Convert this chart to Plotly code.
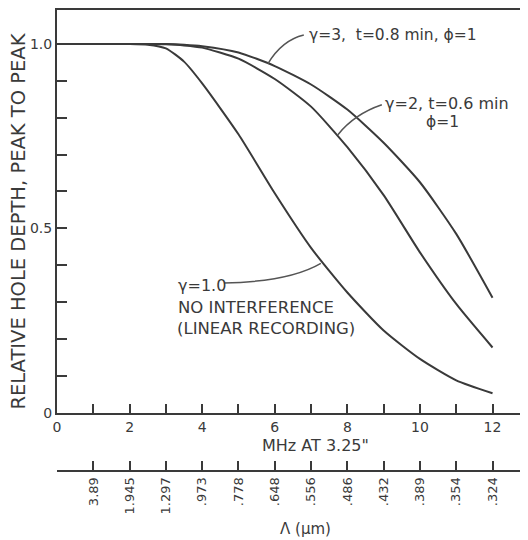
import plotly.graph_objects as go

# ---- data ----
freq_mhz = [0, 1, 2, 2.5, 3, 3.5, 4, 5, 6, 7, 8, 9, 10, 11, 12]
depth_linear = [1.0, 1.0, 1.0, 0.998, 0.988, 0.952, 0.893, 0.755, 0.595, 0.447, 0.326, 0.223, 0.146, 0.088, 0.053]
depth_g2 = [1.0, 1.0, 1.0, 1.0, 0.999, 0.996, 0.99, 0.96, 0.905, 0.83, 0.72, 0.59, 0.435, 0.295, 0.177]
depth_g3 = [1.0, 1.0, 1.0, 1.0, 1.0, 0.998, 0.994, 0.977, 0.94, 0.89, 0.822, 0.732, 0.625, 0.485, 0.312]

x_tick_vals = [0, 1, 2, 3, 4, 5, 6, 7, 8, 9, 10, 11, 12]
x_tick_text = ["0", "", "2", "", "4", "", "6", "", "8", "", "10", "", "12"]
y_tick_vals = [0, 0.1, 0.2, 0.3, 0.4, 0.5, 0.6, 0.7, 0.8, 0.9, 1.0]
y_tick_text = ["0", "", "", "", "", "0.5", "", "", "", "", "1.0"]
lambda_tick_vals = [0, 1, 2, 3, 4, 5, 6, 7, 8, 9, 10, 11, 12]
lambda_tick_text = ["", "3.89", "1.945", "1.297", ".973", ".778", ".648", ".556",
                    ".486", ".432", ".389", ".354", ".324"]

INK = "#3a3a3a"
FONT = "DejaVu Sans"

fig = go.Figure()
for ys in (depth_linear, depth_g2, depth_g3):
    fig.add_trace(go.Scatter(x=freq_mhz, y=ys, mode="lines",
                             line=dict(color=INK, width=2, shape="spline", smoothing=0.6),
                             showlegend=False, hoverinfo="skip"))
# invisible trace for the secondary (wavelength) axis
fig.add_trace(go.Scatter(x=[0, 12], y=[None, None], xaxis="x2", yaxis="y", mode="lines",
                         showlegend=False, hoverinfo="skip"))

XR = [0, 12.95]
fig.update_layout(
    width=520, height=532,
    margin=dict(l=49, r=1, t=0, b=69),
    paper_bgcolor="white", plot_bgcolor="white",
    font=dict(family=FONT, color=INK, size=14),
    xaxis=dict(range=XR, anchor="y", tickvals=x_tick_vals, ticktext=x_tick_text,
               ticks="inside", ticklen=9, tickwidth=1.5, tickcolor=INK,
               showline=True, linecolor=INK, linewidth=2, mirror=True,
               showgrid=False, zeroline=False, tickfont=dict(size=14, color=INK)),
    xaxis2=dict(range=XR, overlaying="x", anchor="free", position=0, side="bottom",
                tickvals=lambda_tick_vals, ticktext=lambda_tick_text, tickangle=-90,
                ticks="inside", ticklen=9, tickwidth=1.5, tickcolor=INK,
                showline=True, linecolor=INK, linewidth=2,
                showgrid=False, zeroline=False, tickfont=dict(size=13, color=INK)),
    yaxis=dict(range=[0, 1.092], domain=[0.1263, 1], tickvals=y_tick_vals, ticktext=y_tick_text,
               ticks="inside", ticklen=10, tickwidth=1.5, tickcolor=INK,
               showline=True, linecolor=INK, linewidth=2,
               showgrid=False, zeroline=False, tickfont=dict(size=14, color=INK)),
)

ann = []
def t(text, x, y, xanchor="left", ref="data", size=16, angle=0):
    d = dict(text=text, x=x, y=y, xanchor=xanchor, yanchor="middle", showarrow=False,
             font=dict(size=size, color=INK, family=FONT), textangle=angle)
    if ref == "data":
        d.update(xref="x", yref="y")
    else:
        d.update(xref="paper", yref="paper")
    ann.append(d)

t("γ=3,  t=0.8 min, ϕ=1", 6.89, 1.024, size=15.5)
t("γ=2, t=0.6 min", 8.98, 0.838, size=16)
t("ϕ=1", 10.63, 0.789, xanchor="center", size=15.5)
t("γ=1.0", 3.28, 0.344, size=16)
t("NO INTERFERENCE", 3.28, 0.285, size=16.5)
t("(LINEAR RECORDING)", 3.25, 0.228, size=16.5)
t("MHz AT 3.25\"", 0.549, 0.056, xanchor="center", ref="paper", size=16)
t("Λ (μm)", 0.528, -0.125, xanchor="center", ref="paper", size=15)
t("RELATIVE HOLE DEPTH, PEAK TO PEAK", -0.082, 0.542, xanchor="center", ref="paper", size=19.5, angle=-90)
fig.update_layout(annotations=ann)

# leader lines
lead = dict(color="#555555", width=1.5)
fig.add_shape(type="path", xref="x", yref="y", path="M 5.81,0.946 Q 6.2,1.01 6.8,1.024", line=lead)
fig.add_shape(type="path", xref="x", yref="y", path="M 7.74,0.754 Q 8.2,0.81 8.95,0.835", line=lead)
fig.add_shape(type="path", xref="x", yref="y", path="M 4.6,0.352 Q 6.4,0.355 7.27,0.405", line=lead)

fig.write_html("out.html")
